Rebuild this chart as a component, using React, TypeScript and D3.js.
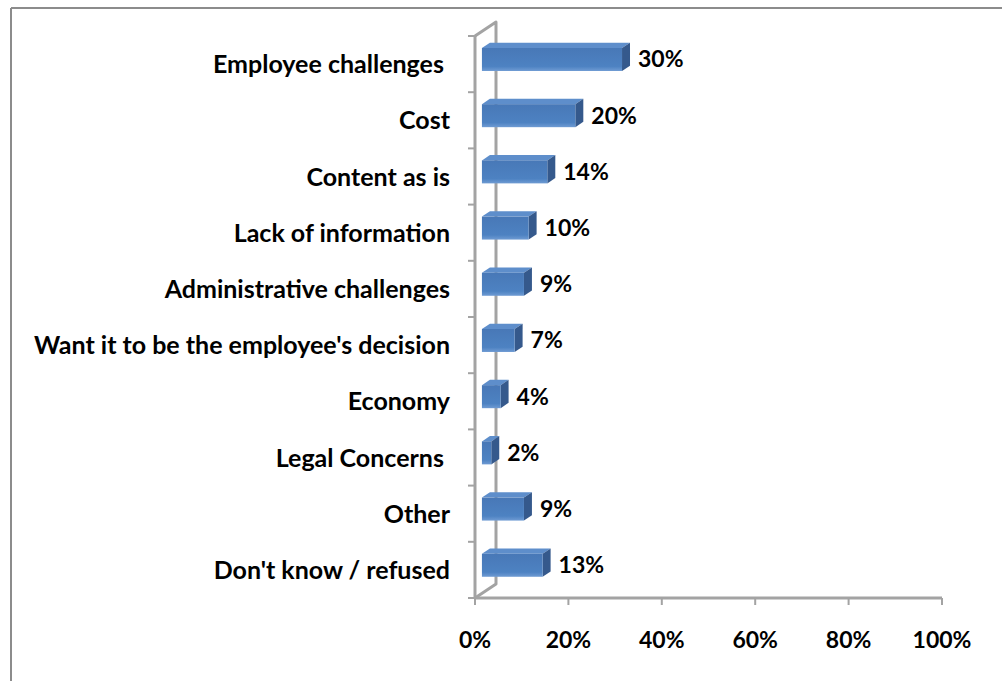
import React from "react";
import * as d3 from "d3";

const categories = [
  "Employee challenges ",
  "Cost",
  "Content as is",
  "Lack of information",
  "Administrative challenges",
  "Want it to be the employee's decision",
  "Economy",
  "Legal Concerns ",
  "Other",
  "Don't know / refused",
];
const values = [30, 20, 14, 10, 9, 7, 4, 2, 9, 13];
const xTicks = [0, 20, 40, 60, 80, 100];

const W = 1002;
const H = 681;
const FONT = "Lato, 'Open Sans', sans-serif";
const FS_CAT = 25;
const FS = 23;

export default function App() {
  const x = d3.scaleLinear().domain([0, 100]).range([475, 942]);
  const y = d3.scaleBand<string>().domain(categories).range([36, 598]).padding(0);
  const depth = { dx: 21, dy: -14 };
  const f1 = 0.33;
  const f2 = 0.71;
  const barH = 23;
  const axisColor = "#a3a3a3";
  const x0 = x(0);
  const yTop = y.range()[0];
  const yBot = y.range()[1];

  return (
    <svg
      width={W}
      height={H}
      style={{ position: "fixed", left: 0, top: 0, background: "#fff" }}
      fontFamily={FONT}
    >
      <defs>
        <linearGradient id="front" x1="0" y1="0" x2="0" y2="1">
          <stop offset="0" stopColor="#4878b7" />
          <stop offset="0.8" stopColor="#4d82c2" />
          <stop offset="1" stopColor="#6f9bd3" />
        </linearGradient>
      </defs>
      {/* outer frame */}
      <line x1={11} y1={8} x2={W} y2={8} stroke="#8c8c8c" strokeWidth={2} />
      <line x1={11} y1={8} x2={11} y2={H} stroke="#8c8c8c" strokeWidth={2} />

      {/* back wall line and diagonals */}
      <g stroke={axisColor} strokeWidth={3} fill="none" strokeLinejoin="round">
        <path
          d={`M${x0},${yTop} L${x0 + depth.dx},${yTop + depth.dy} L${x0 + depth.dx},${yBot + depth.dy} L${x0},${yBot}`}
        />
        <line x1={x0} y1={yTop} x2={x0} y2={yBot} />
        <line x1={x0} y1={yBot} x2={x(100)} y2={yBot} />
      </g>
      {/* ticks */}
      <g stroke={axisColor} strokeWidth={2}>
        {categories.map((c) => (
          <line key={c} x1={x0 - 7} x2={x0} y1={y(c)!} y2={y(c)!} />
        ))}
        <line x1={x0 - 7} x2={x0} y1={yBot} y2={yBot} />
        {xTicks.map((t) => (
          <line key={t} x1={x(t)} x2={x(t)} y1={yBot} y2={yBot + 7} />
        ))}
      </g>

      {/* bars */}
      {categories.map((c, i) => {
        const v = values[i];
        const cy = y(c)! + y.bandwidth() / 2;
        const fx = x0 + depth.dx * f1;
        const fy = cy + depth.dy * f1 - barH / 2;
        const bx = x0 + depth.dx * f2;
        const by = cy + depth.dy * f2 - barH / 2;
        const len = x(v) - x0;
        const ddx = bx - fx;
        const ddy = by - fy;
        return (
          <g key={c}>
            <path
              d={`M${fx},${fy} L${fx + ddx},${fy + ddy} L${fx + len + ddx},${fy + ddy} L${fx + len},${fy} Z`}
              fill="#5e8ecb"
            />
            <path
              d={`M${fx + len},${fy} L${fx + len + ddx},${fy + ddy} L${fx + len + ddx},${fy + ddy + barH} L${fx + len},${fy + barH} Z`}
              fill="#35598c"
            />
            <rect x={fx} y={fy} width={len} height={barH} fill="url(#front)" />
            <text
              x={fx + len + ddx + 8}
              y={cy + depth.dy * f1 + 8}
              fontSize={FS}
              fontWeight="bold"
              fill="#000"
            >
              {v}%
            </text>
          </g>
        );
      })}

      {/* category labels */}
      {categories.map((c) => (
        <text
          key={c}
          x={450}
          y={y(c)! + y.bandwidth() / 2 + 9}
          textAnchor="end"
          fontSize={FS_CAT}
          fontWeight="bold"
          fill="#000"
          style={{ whiteSpace: "pre" }}
        >
          {c}
        </text>
      ))}

      {/* x tick labels */}
      {xTicks.map((t) => (
        <text
          key={t}
          x={x(t)}
          y={648}
          textAnchor="middle"
          fontSize={FS}
          fontWeight="bold"
          fill="#000"
        >
          {t}%
        </text>
      ))}
    </svg>
  );
}
